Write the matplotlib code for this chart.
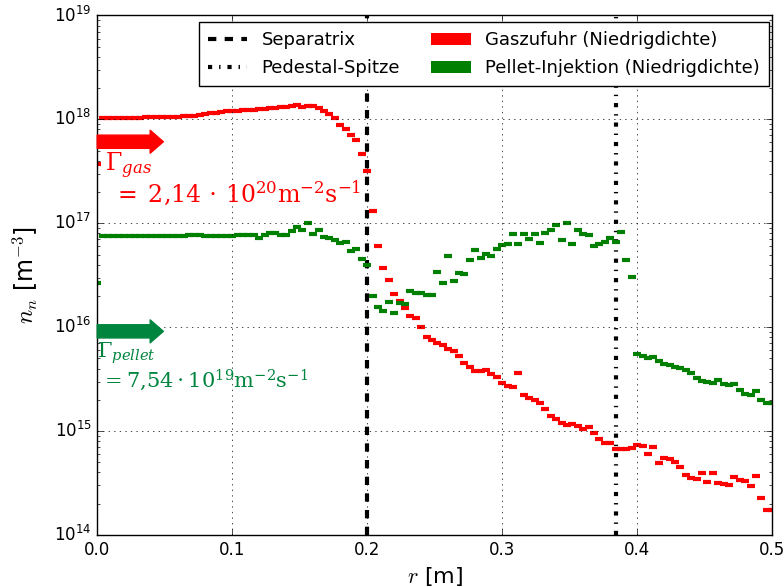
import matplotlib
matplotlib.use("Agg")
import matplotlib.pyplot as plt
import matplotlib.patches as mpatches
from matplotlib.lines import Line2D
import numpy as np

# radial grid (step 0.004 m) and log10 of the neutral density
R_STEP = 0.004
GAS_LOG10 = [
    17.57, 18.01, 18.01, 18.01, 18.015, 18.015, 18.015, 18.015, 18.015, 18.02,
    18.02, 18.02, 18.02, 18.02, 18.025, 18.025, 18.03, 18.03, 18.035, 18.04,
    18.05, 18.06, 18.065, 18.07, 18.08, 18.085, 18.085, 18.09, 18.09, 18.095,
    18.10, 18.10, 18.105, 18.11, 18.12, 18.12, 18.13, 18.135, 18.12, 18.13,
    18.125, 18.11, 18.08, 18.05, 18.01, 17.95, 17.91, 17.85, 17.80, 17.67,
    17.50, 17.12, 16.78, 16.57, 16.45, 16.32, 16.25, 16.18, 16.11, 16.09,
    16.00, 15.91, 15.88, 15.85, 15.83, 15.79, 15.77, 15.72, 15.66, 15.62,
    15.58, 15.58, 15.59, 15.55, 15.52, 15.46, 15.43, 15.42, 15.56, 15.35,
    15.32, 15.30, 15.27, 15.21, 15.15, 15.12, 15.08, 15.06, 15.07, 15.05,
    15.02, 15.04, 14.98, 14.92, 14.89, 14.89, 14.83, 14.83, 14.83, 14.84,
    14.87, 14.86, 14.78, 14.85, 14.69, 14.74, 14.73, 14.70, 14.65, 14.58,
    14.55, 14.54, 14.60, 14.51, 14.60, 14.50, 14.49, 14.48, 14.56, 14.53,
    14.52, 14.47, 14.57, 14.36, 14.24, 14.24,
]
PELLET_LOG10 = [
    16.43, 16.875, 16.875, 16.875, 16.875, 16.875, 16.875, 16.875, 16.875, 16.875,
    16.875, 16.875, 16.875, 16.875, 16.875, 16.875, 16.88, 16.885, 16.89, 16.885,
    16.88, 16.875, 16.875, 16.875, 16.88, 16.88, 16.885, 16.885, 16.885, 16.885,
    16.86, 16.89, 16.91, 16.91, 16.89, 16.89, 16.93, 16.96, 16.94, 17.00,
    16.90, 16.94, 16.87, 16.86, 16.84, 16.81, 16.82, 16.73, 16.75, 16.66,
    16.60, 16.30, 16.19, 16.16, 16.24, 16.14, 16.23, 16.22, 16.35, 16.33,
    16.33, 16.31, 16.31, 16.53, 16.43, 16.69, 16.44, 16.52, 16.51, 16.65,
    16.74, 16.67, 16.70, 16.69, 16.75, 16.79, 16.80, 16.90, 16.80, 16.90,
    16.85, 16.90, 16.81, 16.91, 16.94, 16.98, 16.84, 17.00, 16.80, 16.94,
    16.90, 16.89, 16.78, 16.80, 16.82, 16.86, 16.82, 16.92, 16.65, 16.48,
    15.74, 15.72, 15.70, 15.71, 15.67, 15.65, 15.64, 15.62, 15.61, 15.59,
    15.56, 15.51, 15.48, 15.47, 15.46, 15.49, 15.45, 15.44, 15.45, 15.40,
    15.36, 15.35, 15.39, 15.30, 15.27, 15.27,
]
R_SEPARATRIX = 0.2
R_PEDESTAL = 0.384

LEGEND_LABELS = ["Separatrix", "Pedestal-Spitze",
                 "Gaszufuhr (Niedrigdichte)", "Pellet-Injektion (Niedrigdichte)"]
GAS_TEXT = [r"$\Gamma_{gas}$",
            r"$=\;2{,}14\,\cdot\,10^{20}\mathrm{m}^{-2}\mathrm{s}^{-1}$"]
PELLET_TEXT = [r"$\Gamma_{pellet}$",
               r"$= 7{,}54\cdot 10^{19}\mathrm{m}^{-2}\mathrm{s}^{-1}$"]

ARROW_GREEN = "#00853e"

plt.style.use("classic")
plt.rcParams["figure.facecolor"] = "white"
plt.rcParams["savefig.facecolor"] = "white"

r = np.arange(len(GAS_LOG10)) * R_STEP
n_gas = 10.0 ** np.array(GAS_LOG10)
n_pel = 10.0 ** np.array(PELLET_LOG10)

fig = plt.figure(figsize=(7.84, 5.87), dpi=100)
ax = fig.add_axes([0.124, 0.0886, 0.861, 0.885])

ax.axvline(R_SEPARATRIX, color="k", ls="--", lw=3)
ax.axvline(R_PEDESTAL, color="k", ls="-.", lw=3)
ax.plot(r, n_gas, "_", color="r", ms=6, mew=3)
ax.plot(r, n_pel, "_", color="g", ms=6, mew=3)

ax.set_yscale("log")
ax.set_xlim(0, 0.5)
ax.set_ylim(1e14, 1e19)
ax.grid(True)
ax.tick_params(labelsize=12)
ax.set_xlabel(r"$r$ [m]", fontsize=16)
ax.set_ylabel(r"$n_n$ [m$^{-3}$]", fontsize=17, labelpad=10)

# flux arrows + labels
for yfrac, col in ((0.757, "r"), (0.392, ARROW_GREEN)):
    ax.annotate("", xy=(0.098, yfrac), xytext=(0.0, yfrac),
                xycoords="axes fraction", textcoords="axes fraction",
                arrowprops=dict(arrowstyle="simple,head_length=9.5,head_width=16.5,tail_width=9.5",
                                color=col, mutation_scale=1, shrinkA=0, shrinkB=0),
                annotation_clip=False)

ax.text(0.011, 0.700, GAS_TEXT[0], transform=ax.transAxes, color="r",
        fontsize=17, math_fontfamily="dejavuserif")
ax.text(0.024, 0.641, GAS_TEXT[1], transform=ax.transAxes, color="r",
        fontsize=17, math_fontfamily="dejavuserif")
ax.text(0.0, 0.341, PELLET_TEXT[0], transform=ax.transAxes, color=ARROW_GREEN,
        fontsize=15, math_fontfamily="dejavuserif")
ax.text(0.006, 0.284, PELLET_TEXT[1], transform=ax.transAxes, color=ARROW_GREEN,
        fontsize=15, math_fontfamily="dejavuserif")

handles = [
    Line2D([], [], color="k", ls="--", lw=3),
    Line2D([], [], color="k", ls="-.", lw=3),
    mpatches.Patch(facecolor="r", edgecolor="none"),
    mpatches.Patch(facecolor="g", edgecolor="none"),
]
ax.legend(handles, LEGEND_LABELS, loc="upper right", ncol=2, fontsize=13,
          bbox_to_anchor=(0.995, 0.987), borderaxespad=0, numpoints=1,
          handlelength=2.2, handletextpad=0.8, columnspacing=1.7,
          labelspacing=0.55, borderpad=0.5)

fig.savefig("out.png", dpi=100)
